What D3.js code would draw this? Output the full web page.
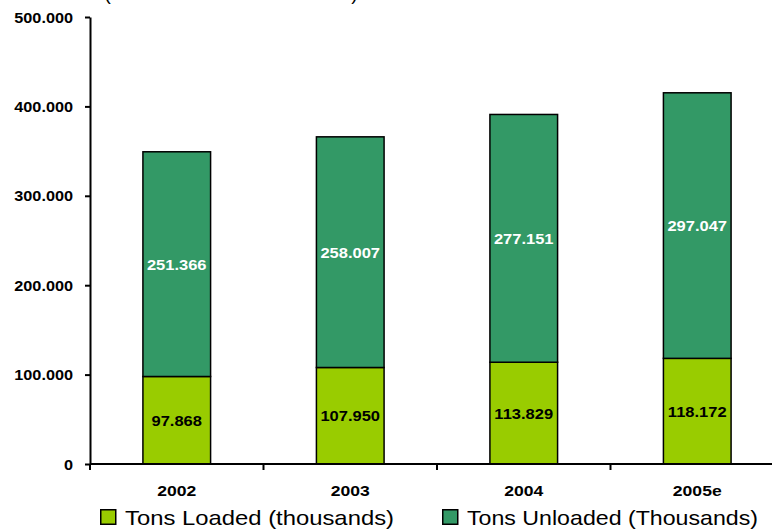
<!DOCTYPE html>
<html>
<head>
<meta charset="utf-8">
<script src="https://cdn.jsdelivr.net/npm/d3@7"></script>
<style>
  html, body { margin: 0; padding: 0; background: #fff; }
  svg { display: block; font-family: "Liberation Sans", Arial, sans-serif; }
</style>
</head>
<body>
<svg id="chart" width="772" height="529"></svg>
<script>
// Port throughput, thousands of tons
const years = ["2002", "2003", "2004", "2005e"];
const loaded = [97.868, 107.950, 113.829, 118.172];
const unloaded = [251.366, 258.007, 277.151, 297.047];
const yTicks = [0, 100, 200, 300, 400, 500];
const seriesNames = ["Tons Loaded (thousands)", "Tons Unloaded (Thousands)"];
const seriesColors = ["#99cc00", "#339966"];

const svg = d3.select("#chart");
const x = d3.scaleBand().domain(years).range([90, 784]).paddingInner(0.61).paddingOuter(0.305);
const y = d3.scaleLinear().domain([0, 500]).range([464, 17]);

const fmt = v => v === 0 ? "0" : d3.format(".3f")(v);

// Slightly wide lettering: stretch each text horizontally by factor k
function widen(sel, k) {
  sel.each(function () {
    const w = this.getComputedTextLength();
    d3.select(this).attr("textLength", w * k).attr("lengthAdjust", "spacingAndGlyphs");
  });
}

// Title (sits above the visible area)
svg.append("text")
  .attr("x", 231).attr("y", 0)
  .attr("text-anchor", "middle")
  .attr("font-size", 19)
  .attr("textLength", 253)
  .text("(Thousands of tons)");

// Bars
const stacks = years.map((yr, i) => ({
  year: yr,
  parts: [
    { key: 0, y0: 0, y1: loaded[i], v: loaded[i] },
    { key: 1, y0: loaded[i], y1: loaded[i] + unloaded[i], v: unloaded[i] }
  ]
}));

const g = svg.append("g");
stacks.forEach(s => {
  s.parts.forEach(p => {
    g.append("rect")
      .attr("x", x(s.year))
      .attr("y", y(p.y1))
      .attr("width", x.bandwidth())
      .attr("height", y(p.y0) - y(p.y1))
      .attr("fill", seriesColors[p.key])
      .attr("stroke", "#000")
      .attr("stroke-width", 1.5);
    g.append("text")
      .attr("class", "val")
      .attr("x", x(s.year) + x.bandwidth() / 2)
      .attr("y", (y(p.y0) + y(p.y1)) / 2)
      .attr("dy", "0.36em")
      .attr("text-anchor", "middle")
      .attr("font-size", 15)
      .attr("font-weight", "bold")
      .attr("fill", p.key === 0 ? "#000" : "#fff")
      .text(d3.format(".3f")(p.v));
  });
});
widen(g.selectAll("text.val"), 1.1);

// Y axis
const yAxis = d3.axisLeft(y).tickValues(yTicks).tickFormat(fmt).tickSize(5).tickSizeOuter(0);
const ya = svg.append("g").attr("transform", "translate(90,0)").call(yAxis);
ya.select(".domain").attr("stroke", "#000").attr("stroke-width", 2);
ya.selectAll(".tick line").attr("stroke", "#000").attr("stroke-width", 2);
ya.selectAll(".tick text")
  .attr("x", -17)
  .attr("dy", "0.36em")
  .attr("font-size", 14).attr("font-weight", "bold")
  .attr("font-family", "Liberation Sans, Arial, sans-serif").attr("fill", "#000");
widen(ya.selectAll(".tick text"), 1.16);

// X axis: ticks at category boundaries
const xa = svg.append("g").attr("transform", "translate(0,464)");
xa.append("line").attr("x1", 90).attr("x2", 784).attr("stroke", "#000").attr("stroke-width", 2);
const bounds = d3.range(years.length + 1).map(i => 90 + i * (694 / years.length));
xa.selectAll("line.b").data(bounds).join("line")
  .attr("class", "b")
  .attr("x1", d => d).attr("x2", d => d)
  .attr("y1", 0).attr("y2", 6)
  .attr("stroke", "#000").attr("stroke-width", 2);
xa.selectAll("text").data(years).join("text")
  .attr("x", d => x(d) + x.bandwidth() / 2)
  .attr("y", 32)
  .attr("text-anchor", "middle")
  .attr("font-size", 15).attr("font-weight", "bold")
  .text(d => d);
widen(xa.selectAll("text"), 1.17);

// Legend
const legendX = [100, 442];
const legendW = [269, 291];
seriesNames.forEach((name, i) => {
  const lg = svg.append("g").attr("transform", `translate(${legendX[i]},509)`);
  lg.append("rect").attr("x", 0.75).attr("y", 0.75).attr("width", 15).attr("height", 14.5)
    .attr("fill", seriesColors[i]).attr("stroke", "#000").attr("stroke-width", 1.5);
  lg.append("text").attr("x", 25).attr("y", 16)
    .attr("font-size", 21).attr("fill", "#000")
    .attr("textLength", legendW[i]).attr("lengthAdjust", "spacingAndGlyphs")
    .text(name);
});
</script>
</body>
</html>
